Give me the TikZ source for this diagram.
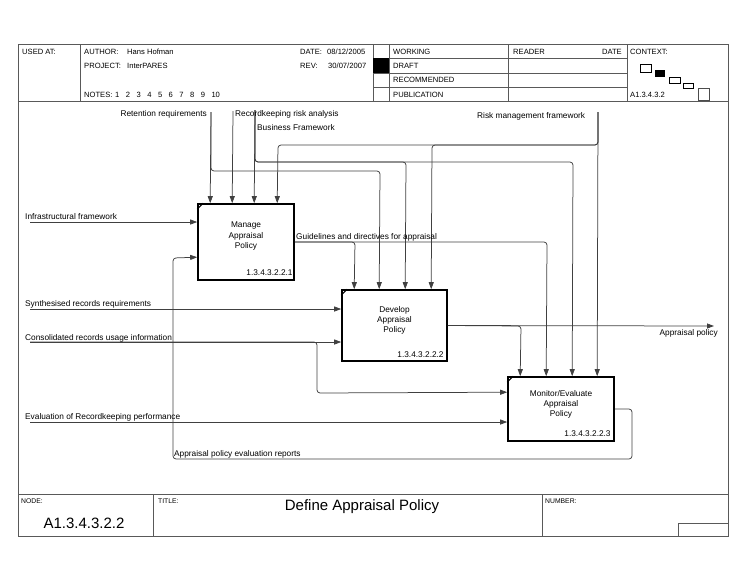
\documentclass[tikz,border=0pt]{standalone}
\usepackage{fontspec}
\setmainfont{Liberation Sans}
\usetikzlibrary{arrows.meta}

\begin{document}
\begin{tikzpicture}[x=1pt,y=-1pt,
    conn/.style={draw=black!75,line width=0.75pt,rounded corners=3pt},
    connarrow/.style={conn,-{Triangle[length=7pt,width=5pt]}},
    flowtxt/.style={inner sep=0pt,font=\fontsize{8.3}{10.3}\selectfont},
    hdrtxt/.style={inner sep=0pt,anchor=base west,font=\fontsize{7.6}{9}\selectfont},
    smalltxt/.style={inner sep=0pt,anchor=base west,font=\fontsize{6.8}{8}\selectfont},
    bigtxt/.style={inner sep=0pt,anchor=base,font=\fontsize{15}{18}\selectfont},
    frame/.style={draw=black!65,line width=0.8pt},
    actbox/.style={draw=black,line width=1.6pt,fill=white,inner sep=0pt},
    acttxt/.style={inner sep=0pt,align=center,font=\fontsize{8.3}{10.3}\selectfont},
    actnum/.style={inner sep=0pt,anchor=base east,font=\fontsize{8.3}{10.3}\selectfont}]

\useasboundingbox (0,0) rectangle (750,579);

% form
\draw[frame] (18,44) rectangle (728,536);
\draw[frame] (18,101) -- (728,101) (18,494) -- (728,494);
\draw[frame] (80,44) -- (80,101) (373,44) -- (373,101) (389,44) -- (389,101)
  (508,44) -- (508,101) (627,44) -- (627,101);
\foreach \y in {58,73,87}
  \draw[frame] (373,\y) -- (627,\y);
\fill (373,58) rectangle (389,73);
\draw[frame] (153,494) -- (153,536) (542,494) -- (542,536);
\draw[frame] (678,523) rectangle (728,536);

% context
\draw[black,line width=0.6pt] (640,64) rectangle (651,72);
\fill (655,70) rectangle (665,77);
\draw[black,line width=0.6pt] (669,77) rectangle (680,83);
\draw[black,line width=0.6pt] (683,83) rectangle (693,88);
\draw[black!70,line width=0.6pt] (698,88) rectangle (709,100);

\begin{scope}[every node/.style={hdrtxt}]
  \node (usedat) at (22,54) {USED AT:};
  \node (author) at (84,54) {AUTHOR:};
  \node (authorv) at (127,54) {Hans Hofman};
  \node (project) at (84,68) {PROJECT:};
  \node (projectv) at (127,68) {InterPARES};
  \node (notes) at (84,97) {NOTES:};
  \node (date) at (300,54) {DATE:};
  \node (datev) at (327,54) {08/12/2005};
  \node (rev) at (300,68) {REV:};
  \node (revv) at (328,68) {30/07/2007};
  \node (working) at (393,54) {WORKING};
  \node (draft) at (393,68) {DRAFT};
  \node (recomm) at (393,82) {RECOMMENDED};
  \node (public) at (393,97) {PUBLICATION};
  \node (reader) at (513,54) {READER};
  \node[anchor=base east] (rdate) at (622,54) {DATE};
  \node (context) at (630,54) {CONTEXT:};
  \node (ctxnode) at (630,97) {A1.3.4.3.2};
\end{scope}
\foreach \n [count=\i from 0] in {1,...,10}
  \node[hdrtxt] (note\n) at (115+10.7*\i,97) {\n};

\node[smalltxt] (nodelbl) at (21,503) {NODE:};
\node[smalltxt] (titlelbl) at (158,503) {TITLE:};
\node[smalltxt] (numlbl) at (545,503) {NUMBER:};
\node[bigtxt] (nodename) at (84,528) {A1.3.4.3.2.2};
\node[bigtxt] (title) at (362,510) {Define Appraisal Policy};

% activities
\node[actbox,minimum width=96pt,minimum height=76pt] (a1) at (246,242) {};
\node[actbox,minimum width=105pt,minimum height=71pt] (a2) at (394.5,325.5) {};
\node[actbox,minimum width=106pt,minimum height=64pt] (a3) at (561,409) {};
\foreach \b in {a1,a2,a3}
  \draw[line width=1pt] ([yshift=-6pt]\b.north west) -- ([xshift=6pt]\b.north west);

\node[acttxt] (a1t) at ([yshift=-33pt]a1.north) {Manage\\Appraisal\\Policy};
\node[acttxt] (a2t) at ([yshift=-31pt]a2.north) {Develop\\Appraisal\\Policy};
\node[acttxt] (a3t) at ([yshift=-28pt]a3.north) {Monitor/Evaluate\\Appraisal\\Policy};
\node[actnum] (a1n) at ([xshift=-2pt,yshift=5pt]a1.south east) {1.3.4.3.2.2.1};
\node[actnum] (a2n) at ([xshift=-4pt,yshift=4.5pt]a2.south east) {1.3.4.3.2.2.2};
\node[actnum] (a3n) at ([xshift=-4pt,yshift=5pt]a3.south east) {1.3.4.3.2.2.3};

% controls
\coordinate (ret) at (211,112);
\coordinate (rra) at (233,111);
\coordinate (bfw) at (255,110);
\coordinate (rmf) at (598,112);
\draw[connarrow] (ret) -- ([xshift=13pt]a1.north west);
\draw[connarrow] (ret) -- (211,171) -- (380,171) -- ([xshift=38pt]a2.north west);
\draw[connarrow] (rra) -- ([xshift=35pt]a1.north west);
\draw[connarrow] (bfw) -- ([xshift=57pt]a1.north west);
\draw[connarrow] (bfw) -- (255,162) -- (406,162) -- ([xshift=64pt]a2.north west);
\draw[connarrow] (bfw) -- (255,162) -- (573,162) -- ([xshift=65pt]a3.north west);
\draw[connarrow] (rmf) -- ([xshift=90pt]a3.north west);
\draw[connarrow] (rmf) -- (598,145) -- (278,145) -- ([xshift=80pt]a1.north west);
\draw[connarrow] (rmf) -- (598,145) -- (432,145) -- ([xshift=90pt]a2.north west);

% inputs
\coordinate (infr) at (30,222);
\coordinate (synt) at (30,309);
\coordinate (cons) at (30,342);
\coordinate (eval) at (30,422);
\draw[connarrow] (infr) -- (infr -| a1.west);
\draw[connarrow] (synt) -- (synt -| a2.west);
\draw[connarrow] (cons) -- (cons -| a2.west);
\draw[connarrow] (cons) -- (317,342) -- (317,393) -- ([yshift=-16pt]a3.north west);
\draw[connarrow] (eval) -- (eval -| a3.west);

% outputs
\coordinate (apol) at (714,326);
\draw[connarrow] (a1.east) -- (547,242) -- ([xshift=39pt]a3.north west);
\draw[connarrow] (a1.east) -- (355,242) -- ([xshift=13pt]a2.north west);
\draw[connarrow] (a2.east) -- (apol);
\draw[connarrow] (a2.east) -- (521,326) -- ([xshift=13pt]a3.north west);
\draw[connarrow] (a3.east) -- (632,409) -- (632,459) -- (173,459) -- (173,258)
  -- ([yshift=-54pt]a1.north west);

\begin{scope}[every node/.style={flowtxt,anchor=base west}]
  \node[anchor=base east] (tret) at (207,116) {Retention requirements};
  \node (trra) at (235,116) {Recordkeeping risk analysis};
  \node (tbfw) at (257,130) {Business Framework};
  \node (trmf) at (477,118) {Risk management framework};
  \node (tinfr) at (25,219) {Infrastructural framework};
  \node (tsynt) at (25,306) {Synthesised records requirements};
  \node (tcons) at (25,340) {Consolidated records usage information};
  \node (teval) at (25,419) {Evaluation of Recordkeeping performance};
  \node (tguid) at (296,239) {Guidelines and directives for appraisal};
  \node[anchor=base east] (tapol) at (718,335) {Appraisal policy};
  \node (tfeed) at (174,456) {Appraisal policy evaluation reports};
\end{scope}

\end{tikzpicture}
\end{document}
